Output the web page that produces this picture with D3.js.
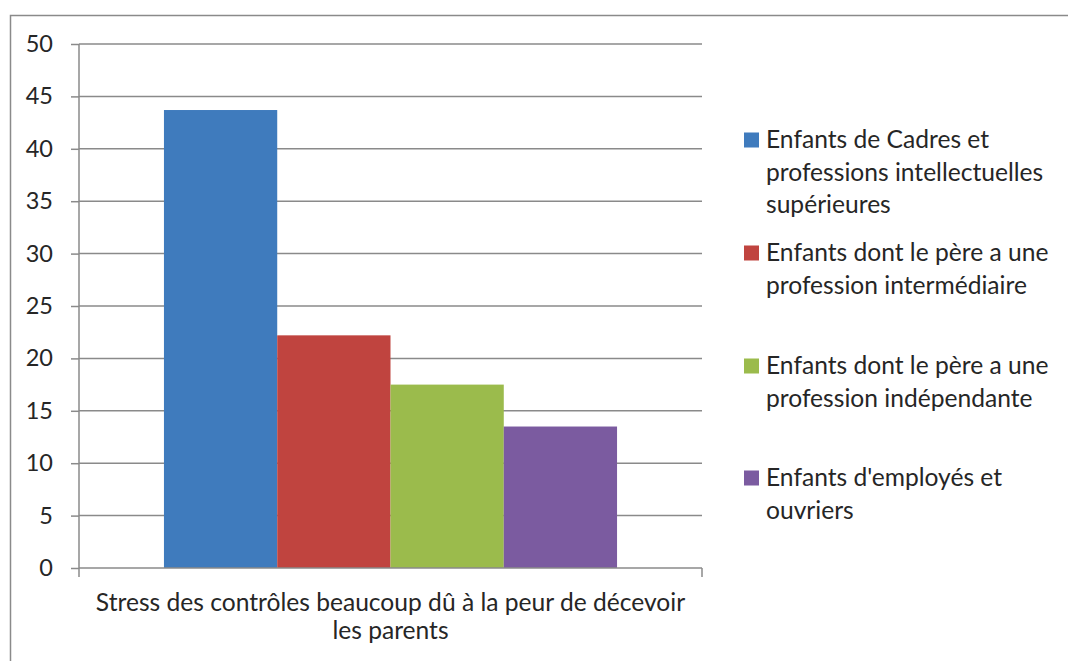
<!DOCTYPE html>
<html>
<head>
<meta charset="utf-8">
<script src="https://cdn.jsdelivr.net/npm/d3@7"></script>
<style>
  html, body { margin: 0; padding: 0; background: #fff; }
  svg { display: block; }
  text { font-family: Lato, "Open Sans", sans-serif; fill: #262626; }
</style>
</head>
<body>
<svg id="chart" width="1068" height="661"></svg>
<script>
// ---- data ----
const categories = ["Stress des contrôles beaucoup dû à la peur de décevoir les parents"];
const categoryLines = [["Stress des contrôles beaucoup dû à la peur de décevoir", "les parents"]];
const seriesNames = [
  "Enfants de Cadres et professions intellectuelles supérieures",
  "Enfants dont le père a une profession intermédiaire",
  "Enfants dont le père a une profession indépendante",
  "Enfants d'employés et ouvriers"
];
const legendLines = [
  ["Enfants de Cadres et", "professions intellectuelles", "supérieures"],
  ["Enfants dont le père a une", "profession intermédiaire"],
  ["Enfants dont le père a une", "profession indépendante"],
  ["Enfants d'employés et", "ouvriers"]
];
const seriesValues = [43.7, 22.2, 17.5, 13.5];
const seriesColors = ["#3f7bbd", "#c0443f", "#9bbb4c", "#7b5ba0"];
const yTicks = [0, 5, 10, 15, 20, 25, 30, 35, 40, 45, 50];

// ---- layout ----
const svg = d3.select("#chart");
const plot = { left: 79, right: 702, top: 44, bottom: 568 };
const axisColor = "#8a8a8a";
const fontSize = 24.6;
const tickFontSize = 23.5;

// outer frame (only top and left edges visible)
svg.append("rect")
  .attr("x", 10.5).attr("y", 15.5)
  .attr("width", 1200).attr("height", 800)
  .attr("fill", "none").attr("stroke", axisColor).attr("stroke-width", 1.5);

const y = d3.scaleLinear().domain([0, 50]).range([plot.bottom, plot.top]);
const x0 = d3.scaleBand().domain(categories).range([plot.left, plot.right]).padding(0);
// Excel gap width 150%: 4 bars + 1.5 bar widths of gap per category
const barW = x0.bandwidth() / 5.5;
const x1 = d3.scaleBand().domain(seriesNames)
  .range([barW * 0.75, x0.bandwidth() - barW * 0.75]).padding(0);

// gridlines
const gridTicks = yTicks.filter(d => d !== 0);
svg.append("g")
  .selectAll("line").data(gridTicks).join("line")
  .attr("x1", plot.left).attr("x2", plot.right)
  .attr("y1", d => y(d)).attr("y2", d => y(d))
  .attr("stroke", axisColor).attr("stroke-width", 1.5);

// bars
const bars = svg.append("g");
categories.forEach(cat => {
  bars.selectAll(null).data(seriesValues).join("rect")
    .attr("x", (d, i) => x0(cat) + x1(seriesNames[i]))
    .attr("width", x1.bandwidth())
    .attr("y", d => y(d))
    .attr("height", d => y(0) - y(d))
    .attr("fill", (d, i) => seriesColors[i]);
});

// y axis
const yAxis = d3.axisLeft(y).tickValues(yTicks).tickSize(8).tickPadding(18).tickFormat(d3.format("d"));
const gy = svg.append("g").attr("transform", `translate(${plot.left},0)`).call(yAxis);
gy.select(".domain").attr("stroke", axisColor).attr("stroke-width", 1.5).attr("d", `M0,${plot.top}V${plot.bottom}`);
gy.selectAll(".tick line").attr("stroke", axisColor).attr("stroke-width", 1.5);
gy.selectAll(".tick text").attr("font-size", tickFontSize).attr("font-family", "Lato, sans-serif").attr("fill", "#262626");

// x axis
const xAxis = d3.axisBottom(x0).tickSize(0).tickFormat("");
const gx = svg.append("g").attr("transform", `translate(0,${plot.bottom})`).call(xAxis);
gx.select(".domain").attr("stroke", axisColor).attr("stroke-width", 1.5).attr("d", `M${plot.left},0H${plot.right}`);
gx.selectAll(".edge").data([plot.left, plot.right]).join("line")
  .attr("class", "edge")
  .attr("x1", d => d).attr("x2", d => d).attr("y1", 0).attr("y2", 9)
  .attr("stroke", axisColor).attr("stroke-width", 1.5);

// category label
categories.forEach((cat, ci) => {
  const cx = x0(cat) + x0.bandwidth() / 2;
  const t = svg.append("text")
    .attr("x", cx).attr("y", 611)
    .attr("text-anchor", "middle")
    .attr("font-size", fontSize);
  categoryLines[ci].forEach((line, li) => {
    t.append("tspan").attr("x", cx).attr("dy", li === 0 ? 0 : 28).text(line);
  });
});

// legend
const legendTop = [140, 253, 366, 478];
const lg = svg.append("g");
seriesNames.forEach((name, i) => {
  const g = lg.append("g").attr("transform", `translate(744,${legendTop[i]})`);
  g.append("rect").attr("x", 0).attr("y", -7.5).attr("width", 15).attr("height", 15).attr("fill", seriesColors[i]);
  const t = g.append("text").attr("x", 22).attr("y", 8).attr("font-size", fontSize);
  legendLines[i].forEach((line, li) => {
    t.append("tspan").attr("x", 22).attr("dy", li === 0 ? 0 : 32.5).text(line);
  });
});
</script>
</body>
</html>
